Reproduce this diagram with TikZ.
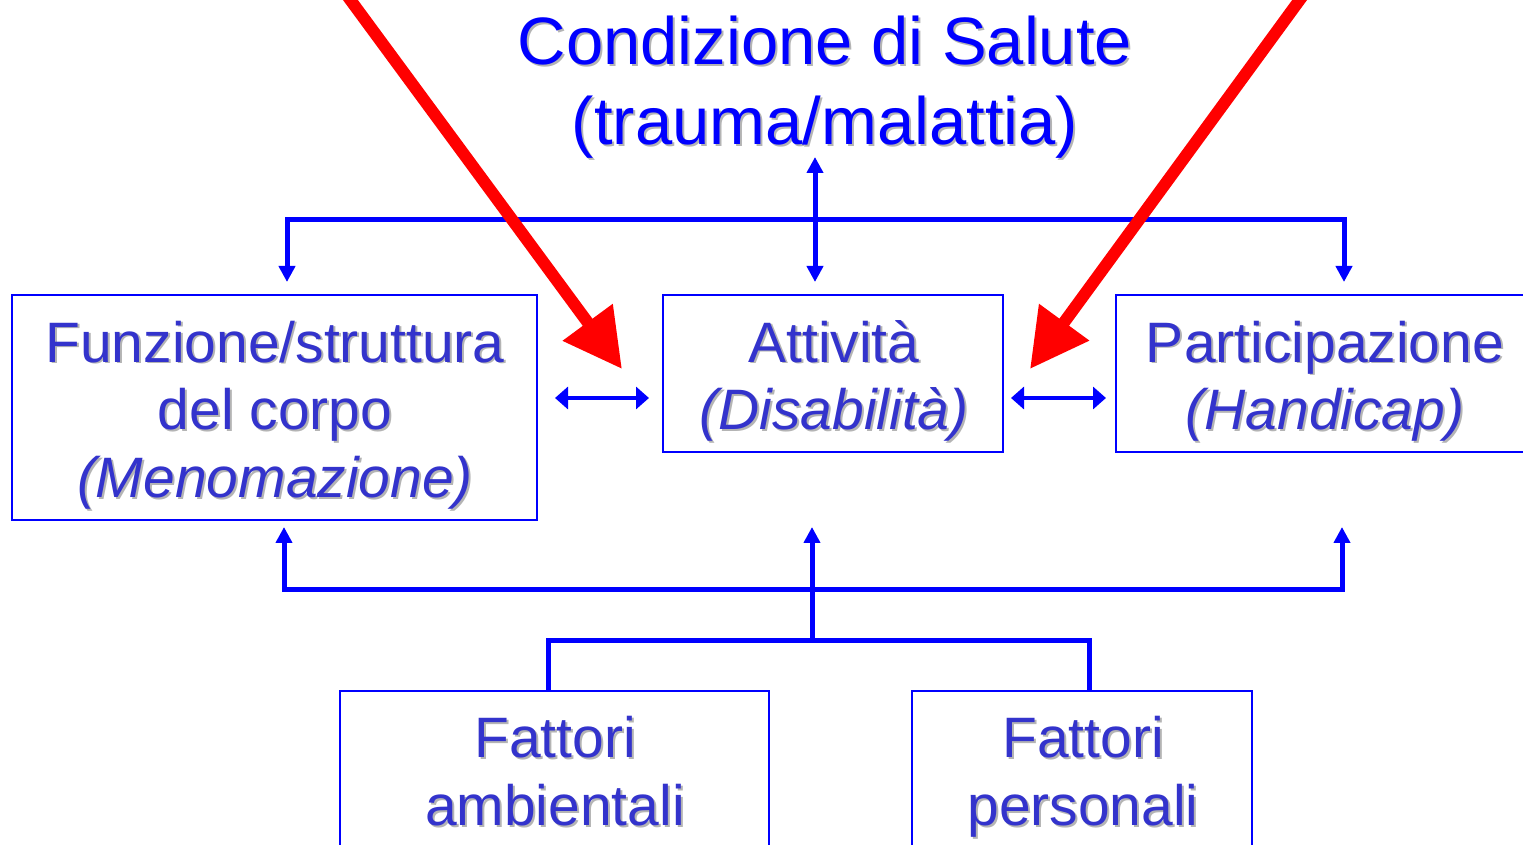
\documentclass[tikz,border=0pt]{standalone}
\usepackage{fontspec}
\setmainfont{Liberation Sans}
\usetikzlibrary{arrows.meta}
\definecolor{lineblue}{HTML}{0000FF}
\definecolor{txtblue}{HTML}{3333CC}
\definecolor{shgray}{HTML}{B4B4B4}
\definecolor{arrred}{HTML}{FF0000}
\newcommand\shd[1]{\leavevmode\rlap{\kern1pt\raisebox{-1pt}{\color{shgray}#1}}#1}
\tikzset{
  vt/.tip={Triangle[length=8pt,width=8pt]},
  ht/.tip={Triangle[length=6.5pt,width=11pt]},
  rt/.tip={Triangle[length=29pt,width=29.5pt]},
  box/.style={draw=lineblue, line width=1pt, inner sep=0pt, rectangle},
  boxtxt/.style={text=txtblue, align=center, font=\fontsize{28.5}{34}\selectfont, inner sep=0pt, anchor=base},
  titletxt/.style={text=lineblue, align=center, font=\fontsize{33.5}{40}\selectfont, inner sep=0pt, anchor=base},
  bus/.style={draw=lineblue, line width=2.5pt},
  link/.style={draw=lineblue, line width=2pt},
  redarrow/.style={draw=arrred, line width=6pt, -rt},
}
\begin{document}
\begin{tikzpicture}[x=0.5pt,y=-0.5pt]
\clip (0,0) rectangle (1523,845);
\fill[white] (0,0) rectangle (1523,845);

% boxes
\node[box, minimum width=262.5pt, minimum height=112.5pt] (body) at (274.5,407.5) {};
\node[box, minimum width=170pt, minimum height=78.5pt] (act) at (833,373.5) {};
\node[box, minimum width=212pt, minimum height=78.5pt] (part) at (1328,373.5) {};
\node[box, minimum width=214.5pt, minimum height=89pt] (env) at (554.5,780) {};
\node[box, minimum width=170pt, minimum height=89pt] (pers) at (1082,780) {};

% texts (anchor = baseline of last line)
\node[titletxt] (title) at (825,145) {\shd{Condizione di Salute}\\\shd{(trauma/malattia)}};
\node[boxtxt] (bodytxt) at (275,498) {\shd{Funzione/struttura}\\\shd{del corpo}\\\shd{\itshape(Menomazione)}};
\node[boxtxt] (acttxt) at (834,430) {\shd{Attività}\\\shd{\itshape(Disabilità)}};
\node[boxtxt] (parttxt) at (1325,430) {\shd{Participazione}\\\shd{\itshape(Handicap)}};
\node[boxtxt] (envtxt) at (555,825) {\shd{Fattori}\\\shd{ambientali}};
\node[boxtxt] (perstxt) at (1083,825) {\shd{Fattori}\\\shd{personali}};

% connector coordinates
\coordinate (ctop) at (815,157);
\coordinate (cbot) at (815,282);
\coordinate (tl) at (287,282);
\coordinate (tr) at (1344,282);
\coordinate (tbus) at (1344,220);
\coordinate (bl) at (284,527);
\coordinate (br) at (1342,527);
\coordinate (bbus) at (1342,590);
\coordinate (bm) at (812,527);
\coordinate (hub) at (812,640);
\coordinate (el) at (548,691);
\coordinate (pr) at (1089,691);
\coordinate (lbus) at (1089,640);
\coordinate (h1a) at (555,398);
\coordinate (h1b) at (649,398);
\coordinate (h2a) at (1011,398);
\coordinate (h2b) at (1106,398);

% top bus
\draw[bus, vt-vt] (tl) |- (tbus) -- (tr);
\draw[bus, vt-vt] (ctop) -- (cbot);
% bottom bus
\draw[bus, vt-vt] (bl) |- (bbus) -- (br);
\draw[bus, -vt] (hub) -- (bm);
\draw[bus] (el) |- (lbus) -- (pr);
% horizontal double arrows
\draw[link, ht-ht] (h1a) -- (h1b);
\draw[link, ht-ht] (h2a) -- (h2b);

% red arrows
\coordinate (rls) at (346,-6);
\coordinate (rlt) at (622,369);
\coordinate (rrs) at (1304,-6);
\coordinate (rrt) at (1030,369);
\draw[redarrow] (rls) -- (rlt);
\draw[redarrow] (rrs) -- (rrt);
\end{tikzpicture}
\end{document}
